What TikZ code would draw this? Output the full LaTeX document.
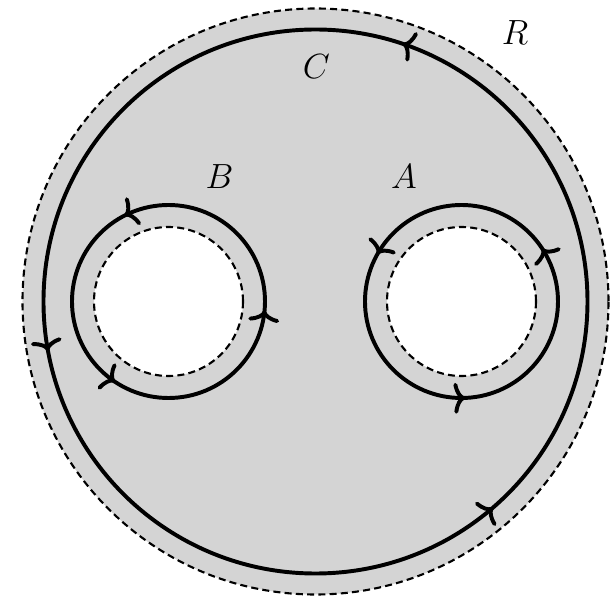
\documentclass[tikz,border=0pt]{standalone}
\usetikzlibrary{arrows.meta,decorations.markings}

\begin{document}
\begin{tikzpicture}[
  x=0.025cm,
  y=0.025cm,
  region/.style={fill=black!17, even odd rule},
  rim/.style={draw, dash pattern=on 5pt off 3pt, line width=1.5pt},
  loop/.style={draw, line width=2.8pt},
  tag/.style={font=\fontsize{26}{30}\selectfont},
  marks/.style={postaction={decorate, decoration={markings,
    mark=at position #1 with {\arrow{Computer Modern Rightarrow[width=22pt, length=8pt]}}}}}
]
  \useasboundingbox (-315.5,-297.5) rectangle (298.5,301.5);

  \coordinate (o) at (0,0);
  \coordinate (a) at (146,0);
  \coordinate (b) at (-147,0);

  % shaded region with two holes
  \fill[region] (o) circle (293) (a) circle (74.5) (b) circle (74.5);
  \draw[rim] (o) circle (293);
  \draw[rim] (a) circle (74.5);
  \draw[rim] (b) circle (74.5);

  % contours
  \draw[loop, marks/.list={0.198,0.529,0.863}] (o) circle (272);
  \draw[loop, marks/.list={0.092,0.418,0.756}] (a) circle (96.5);
  \draw[loop, marks/.list={0.325,0.656,0.985}] (b) circle (96.5);

  \node[tag] (lR) at (199.5,268.5) {$R$};
  \node[tag] (lC) at (1,235) {$C$};
  \node[tag] (lB) at (-96,125) {$B$};
  \node[tag] (lA) at (88.5,125) {$A$};
\end{tikzpicture}
\end{document}
